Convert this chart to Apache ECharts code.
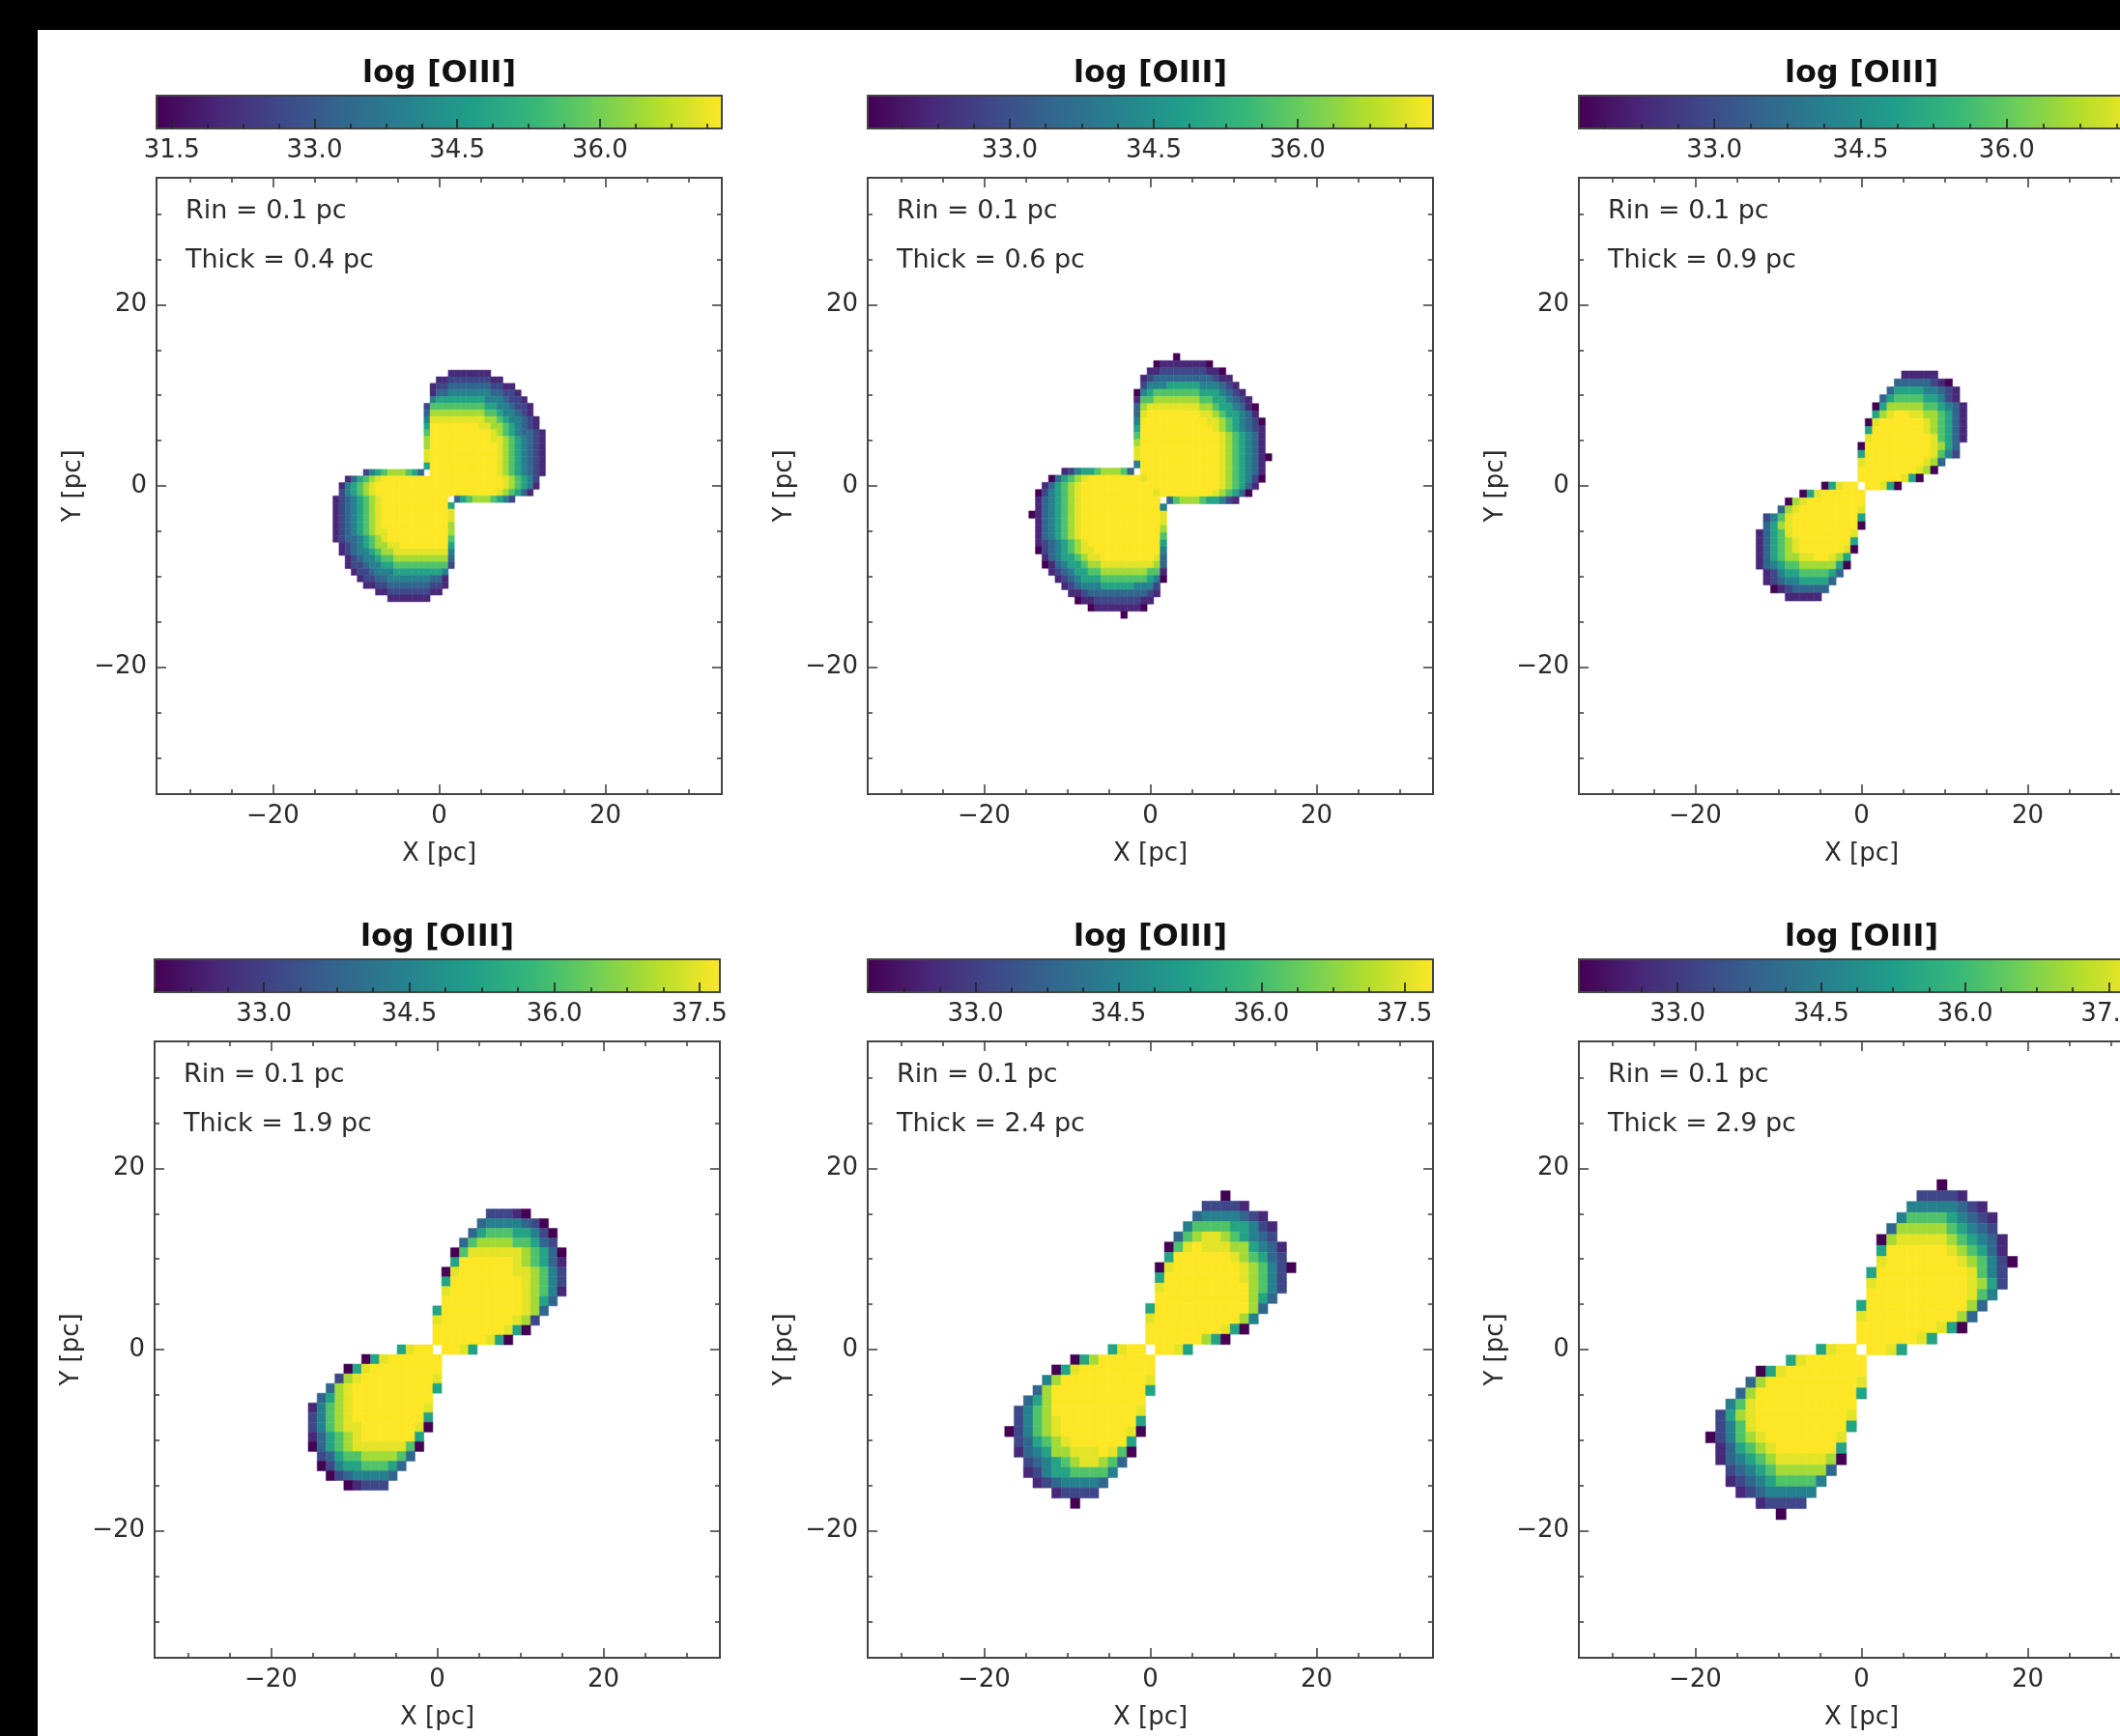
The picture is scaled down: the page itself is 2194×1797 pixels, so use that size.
<!DOCTYPE html>
<html><head><meta charset="utf-8">
<style>html,body{margin:0;padding:0;background:#fff}#c{width:2194px;height:1797px}</style>
<script src="https://cdn.jsdelivr.net/npm/echarts@6/dist/echarts.min.js"></script>
</head><body><div id="c"></div>
<script>
const VIRIDIS = ['#440154','#482878','#3e4989','#31688e','#26828e','#1f9e89','#35b779','#6ece58','#b5de2b','#fde725'];
const THICK = ['0.4','0.6','0.9','1.9','2.4','2.9'];
const CELL = [0.73,0.79,0.875,1.07,1.13,1.21];
const CB_RANGE = [[31.34,37.28],[31.52,37.41],[31.61,37.41],[31.87,37.71],[31.87,37.8],[31.97,37.87]];
const CB_TICKS = [[31.5,33,34.5,36],[33,34.5,36],[33,34.5,36],[33,34.5,36,37.5],[33,34.5,36,37.5],[33,34.5,36,37.5]];
const CB_MINOR = [31.5,31.875,32.25,32.625,33,33.375,33.75,34.125,34.5,34.875,35.25,35.625,36,36.375,36.75,37.125,37.5];
const AX_MAJOR = [-20,0,20];
const AX_MINOR = [-30,-25,-15,-10,-5,5,10,15,25,30];
// share of the colour range that each level 0-9 stands for
const LEVEL_FRAC = [0,0.11,0.22,0.33,0.44,0.58,0.72,0.86,0.96,1];

// each row, top to bottom: [first column, colour level per cell 0-9 ("." = empty)]
const P1 = [[2,"1111111"],[0,"11222222211"],[-1,"12233333332211"],[-1,"133444444433221"],[-1,"4555555554443221"],
[-2,"266666666655443221"],[-2,"377777777766544321"],[-2,"4888888888776544321"],[-2,"5999999998877654321"],
[-2,"69999999999876543321"],[-2,"79999999999887654321"],[-2,"79999999999987654321"],[-2,"89999999999987654321"],
[-2,"89999999999987654321"],[-2,"59999999999987654321"],[-12,"2456777653.9999999999987654321"],
[-15,"13567899999999999999999999876542"],[-16,"145678999999999999999999999876541"],[-16,"24567899999999999999999999876531"],
[-17,"1234567899999999999.3567776542"],[-17,"12345678999999999995"],[-17,"12345678999999999998"],[-17,"12345678999999999998"],
[-17,"12345678999999999997"],[-17,"12345678899999999997"],[-17,"12334567899999999996"],[-16,"1234567788999999995"],
[-16,"1234456778888888884"],[-15,"123445667777777773"],[-15,"122344556666666662"],[-14,"1223444555555554"],
[-13,"122334444444331"],[-12,"11223333333221"],[-10,"11222222211"],[-8,"1111111"]];
const P2 = [[4,"0"],[1,"011111110"],[0,"112222222110"],[-1,"12333333333211"],[-1,"244455555444321"],[-2,"04566666665554321"],
[-2,"166777777766554321"],[-2,"3788888888776554310"],[-2,"3899999999887655431"],[-2,"49999999999887654320"],
[-2,"59999999999987654321"],[-2,"69999999999998765431"],[-2,"79999999999998765431"],[-2,"89999999999998765431"],
[-2,"899999999999987654310"],[-2,"49999999999998765431"],[-13,"12455677763.9999999999998765431"],
[-15,"035678999999998999999999998765420"],[-16,"135678999999999999999999999876531"],[-17,"024567899999999999899999999876530"],
[-17,"1345678999999999999.36777655421"],[-17,"13456789999999999994"],[-18,"013456789999999999998"],[-17,"13456789999999999998"],
[-17,"13456789999999999997"],[-17,"13456789999999999996"],[-17,"12345678999999999995"],[-17,"02345678899999999994"],
[-16,"1345567889999999983"],[-16,"0134556778888888873"],[-15,"123455667777777661"],[-14,"12345556666666540"],
[-13,"123444555554442"],[-12,"11233333333321"],[-11,"011222222211"],[-9,"011111110"],[-4,"0"]];
const P3 = [[6,"11111"],[5,"33333210"],[4,"3555544321"],[3,"35666655421"],[2,"0577777665431"],[2,"5789988776531"],
[1,"08999999876531"],[1,"59999999876531"],[1,"89999999986531"],[0,"09999999998753"],[0,"59999999998642"],[0,"899999999873"],
[0,"99999999870"],[0,"999999850"],[-5,"05899.99850"],[-8,"058999999"],[-10,"07899999999"],[-11,"378999999998"],
[-13,"24689999999995"],[-13,"35789999999990"],[-14,"13568999999998"],[-14,"13567899999995"],[-14,"13567899999980"],
[-14,"1356778899875"],[-14,"1345667777750"],[-13,"12455666653"],[-13,"1234455553"],[-12,"01233333"],[-10,"11111"]];
const P4 = [[6,"22210"],[5,"34444320"],[4,"3566655420"],[3,"36777766532"],[2,"0688888876530"],[2,"5999999876531"],
[1,"08999999887642"],[1,"59999999987642"],[1,"89999999987641"],[1,"9999999998753"],[0,"5999999999873"],[0,"899999999872"],
[0,"99999999850"],[0,"999999850"],[-4,"5899.9985"],[-8,"058999999"],[-10,"05899999999"],[-11,"278999999998"],
[-12,"3789999999995"],[-13,"3578999999999"],[-14,"14678999999998"],[-14,"24678999999995"],[-14,"24678899999980"],
[-14,"1356789999995"],[-14,"0356788888860"],[-13,"23566777763"],[-13,"0245566653"],[-12,"02344443"],[-10,"01222"]];
const P5 = [[8,"0"],[6,"22221"],[5,"34444321"],[4,"4666655421"],[3,"36788765432"],[2,"0689888775431"],[2,"5999999876532"],
[1,"089999999876420"],[1,"59999999987642"],[1,"89999999997642"],[1,"9999999999753"],[0,"5999999999973"],[0,"899999999974"],
[0,"99999999850"],[0,"999999750"],[-4,"5899.9985"],[-8,"057999999"],[-10,"05899999999"],[-11,"479999999998"],
[-12,"3799999999995"],[-13,"3579999999999"],[-14,"24679999999998"],[-14,"24678999999995"],[-15,"024678999999980"],
[-14,"2356789999995"],[-14,"1345778889860"],[-13,"23456788763"],[-13,"1245566664"],[-12,"12344443"],[-10,"12222"],[-8,"0"]];
const P6 = [[8,"0"],[6,"22221"],[5,"44444321"],[4,"4666654321"],[3,"37777765432"],[2,"0788888765431"],[2,"5999999876531"],
[2,"89999999876420"],[1,"59999999998642"],[1,"89999999998752"],[1,"9999999999864"],[0,"5999999999973"],[0,"899999999973"],
[0,"99999999850"],[0,"99999985"],[-4,"5899.9985"],[-7,"58999999"],[-10,"05899999999"],[-11,"379999999998"],
[-12,"3799999999995"],[-13,"4689999999999"],[-14,"25789999999998"],[-14,"24689999999995"],[-15,"02467899999998"],
[-14,"1356789999995"],[-14,"1345678888870"],[-13,"23456777773"],[-13,"1234566664"],[-12,"12344444"],[-10,"12222"],[-8,"0"]];
const PANELS = [P1,P2,P3,P4,P5,P6];

const LAYOUT = [[162,184,99],[898,184,99],[1634,184,99],[160,1078,993],[898,1078,993],[1634,1078,993]];
const PW = 585, PH = 638, CBH = 34, RANGE = 34;
const INK = '#2b2b2b', FRAME = '#444', FF = '"DejaVu Sans"';

const chart = echarts.init(document.getElementById('c'), null, {renderer:'canvas'});
const grid=[], xAxis=[], yAxis=[], series=[], visualMap=[], title=[], graphic=[];
graphic.push({type:'rect',shape:{x:0,y:0,width:2194,height:31},style:{fill:'#000'},silent:true});
graphic.push({type:'rect',shape:{x:0,y:0,width:39,height:1797},style:{fill:'#000'},silent:true});
const fmt = v => String(v).replace('-','\u2212');
const line = {show:true,onZero:false,lineStyle:{color:FRAME,width:2}};
function axis(gridIndex,position,major,withLabels,name,len,horizontal){
  const o = {type:'value',gridIndex,position,min:-RANGE,max:RANGE,z:5,splitLine:{show:false},
    axisLine:line,
    axisTick:{show:true,inside:true,length:len,customValues:major,lineStyle:{color:FRAME,width:1.6}},
    axisLabel:withLabels?{show:true,customValues:major,formatter:fmt,fontFamily:FF,fontSize:26,color:INK,margin:horizontal?10:10}:{show:false}};
  if(name){o.name=name;o.nameLocation='middle';o.nameGap=horizontal?49:73;
    o.nameTextStyle={fontFamily:FF,fontSize:26,color:INK};}
  return o;
}
PANELS.forEach((rows,i)=>{
  const [left,top,cbTop]=LAYOUT[i], cell=CELL[i], [vmin,vmax]=CB_RANGE[i];
  const gp=grid.length; grid.push({left,top,width:PW,height:PH,outerBoundsMode:'none',containLabel:false});
  const gc=grid.length; grid.push({left,top:cbTop,width:PW,height:CBH,outerBoundsMode:'none',containLabel:false});
  const xp=xAxis.length, yp=yAxis.length;
  xAxis.push(axis(gp,'bottom',AX_MAJOR,true,'X [pc]',10,true),axis(gp,'top',AX_MAJOR,false,null,10,true),
             axis(gp,'bottom',AX_MINOR,false,null,5,true),axis(gp,'top',AX_MINOR,false,null,5,true));
  yAxis.push(axis(gp,'left',AX_MAJOR,true,'Y [pc]',10,false),axis(gp,'right',AX_MAJOR,false,null,10,false),
             axis(gp,'left',AX_MINOR,false,null,5,false),axis(gp,'right',AX_MINOR,false,null,5,false));
  const xc=xAxis.length, yc=yAxis.length;
  const minor=CB_MINOR.filter(v=>v>vmin&&v<vmax&&!CB_TICKS[i].includes(v));
  const cbAxis=(pos,ticks,len,labels)=>({type:'value',gridIndex:gc,position:pos,min:vmin,max:vmax,z:5,splitLine:{show:false},
    axisLine:{show:true,onZero:false,lineStyle:{color:FRAME,width:2}},
    axisTick:{show:ticks.length>0,inside:true,length:len,customValues:ticks,lineStyle:{color:'#222',width:1.6}},
    axisLabel:labels?{show:true,customValues:ticks,formatter:v=>v.toFixed(1),fontFamily:FF,fontSize:26,color:INK,margin:10}:{show:false}});
  xAxis.push(cbAxis('bottom',CB_TICKS[i],10,true),cbAxis('bottom',minor,5,false),cbAxis('top',[],0,false));
  const cbY=pos=>({type:'value',gridIndex:gc,position:pos,min:0,max:1,z:5,splitLine:{show:false},
    axisLine:{show:true,onZero:false,lineStyle:{color:FRAME,width:2}},axisTick:{show:false},axisLabel:{show:false}});
  yAxis.push(cbY('left'),cbY('right'));

  const rmax=(rows.length-1)/2, data=[];
  rows.forEach(([first,levels],k)=>{
    for(let j=0;j<levels.length;j++){
      if(levels[j]==='.')continue;
      data.push([(first+j)*cell,(rmax-k)*cell,vmin+(vmax-vmin)*LEVEL_FRAC[+levels[j]]]);
    }
  });
  const half=cell/2;
  visualMap.push({show:false,type:'continuous',seriesIndex:series.length,dimension:2,min:vmin,max:vmax,inRange:{color:VIRIDIS}});
  series.push({type:'custom',xAxisIndex:xp,yAxisIndex:yp,z:2,coordinateSystem:'cartesian2d',encode:{x:0,y:1},data,silent:true,
    renderItem:(p,api)=>{
      const a=api.coord([api.value(0)-half,api.value(1)+half]), b=api.coord([api.value(0)+half,api.value(1)-half]);
      const c=api.visual('color');
      return {type:'rect',shape:{x:a[0],y:a[1],width:b[0]-a[0],height:b[1]-a[1]},style:{fill:c,stroke:c,lineWidth:0.5}};
    }});
  series.push({type:'custom',xAxisIndex:xc,yAxisIndex:yc,z:2,coordinateSystem:'cartesian2d',encode:{x:[0,1]},data:[[vmin,vmax]],silent:true,
    renderItem:(p,api)=>{
      const a=api.coord([api.value(0),1]), b=api.coord([api.value(1),0]);
      return {type:'rect',shape:{x:a[0],y:a[1],width:b[0]-a[0],height:b[1]-a[1]},
        style:{fill:new echarts.graphic.LinearGradient(0,0,1,0,VIRIDIS.map((color,n)=>({offset:n/9,color})))}};
    }});
  title.push({text:'log [OIII]',left:left+PW/2-5,top:cbTop-43,textAlign:'center',
    textStyle:{fontFamily:FF,fontWeight:'bold',fontSize:32,color:'#111'}});
  graphic.push({type:'text',x:left+30,y:top+35,style:{text:'Rin = 0.1 pc',font:'27px '+FF,fill:INK,verticalAlign:'middle'}});
  graphic.push({type:'text',x:left+30,y:top+86,style:{text:'Thick = '+THICK[i]+' pc',font:'27px '+FF,fill:INK,verticalAlign:'middle'}});
});
chart.setOption({animation:false,backgroundColor:'#fff',grid,xAxis,yAxis,series,visualMap,title,graphic});
</script></body></html>
